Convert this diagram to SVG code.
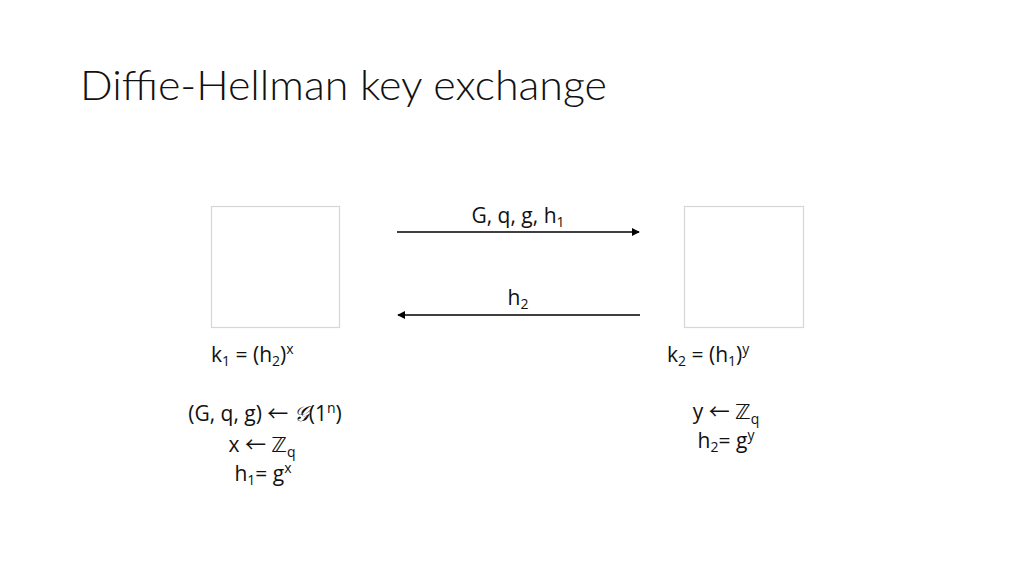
<svg xmlns="http://www.w3.org/2000/svg" width="1024" height="576" viewBox="0 0 1024 576">
<style>
text{font-family:"Open Sans","Liberation Sans",sans-serif;fill:#111}
.t{font-size:21px}
.sub{font-size:14px}
.ar{font-family:"Noto Sans CJK SC",sans-serif;font-size:21px}
.box{fill:#fff;stroke:#d6d6d6;stroke-width:1.2}
.ln{stroke:#000;stroke-width:1.6;fill:none}
</style>
<defs>
<marker id="ah" viewBox="0 0 10 10" refX="9" refY="5" markerWidth="5" markerHeight="5" orient="auto-start-reverse"><path d="M0,0L10,5L0,10z" fill="#000"/></marker>
</defs>
<rect width="1024" height="576" fill="#fff"/>
<text x="80" y="100" style="font-family:Lato,'Open Sans',sans-serif;font-weight:300;font-size:42px" textLength="527" lengthAdjust="spacingAndGlyphs">Diffie-Hellman key exchange</text>
<g id="alice"><rect class="box" x="211.5" y="206.5" width="128" height="121"/></g>
<g id="bob"><rect class="box" x="684.5" y="206.5" width="119" height="121"/></g>
<g id="connectors">
<line class="ln" x1="397" y1="232" x2="639" y2="232" marker-end="url(#ah)"/>
<line class="ln" x1="640" y1="315" x2="398" y2="315" marker-end="url(#ah)"/>
</g>
<g id="labels">
<text class="t" x="518" y="223" text-anchor="middle">G, q, g, h<tspan class="sub" dy="4">1</tspan></text>
<text class="t" x="518" y="305" text-anchor="middle">h<tspan class="sub" dy="4">2</tspan></text>
</g>
<g id="alice-text">
<text class="t" x="211" y="362">k<tspan class="sub" dy="4">1</tspan><tspan dy="-4"> = (h</tspan><tspan class="sub" dy="4">2</tspan><tspan dy="-4">)</tspan><tspan class="sub" dy="-8">x</tspan></text>
<text class="t" x="265" y="421" text-anchor="middle">(G, q, g) <tspan class="ar">←</tspan> <tspan font-family="DejaVu Sans,serif" font-style="italic">𝒢</tspan>(1<tspan class="sub" dy="-8">n</tspan><tspan dy="8">)</tspan></text>
<text class="t" x="262" y="452" text-anchor="middle">x <tspan class="ar">←</tspan> <tspan font-family="DejaVu Sans,sans-serif">ℤ</tspan><tspan class="sub" dy="5">q</tspan></text>
<text class="t" x="263" y="481" text-anchor="middle">h<tspan class="sub" dy="4">1</tspan><tspan dy="-4">= g</tspan><tspan class="sub" dy="-8">x</tspan></text>
</g>
<g id="bob-text">
<text class="t" x="667" y="362">k<tspan class="sub" dy="4">2</tspan><tspan dy="-4"> = (h</tspan><tspan class="sub" dy="4">1</tspan><tspan dy="-4">)</tspan><tspan class="sub" dy="-8">y</tspan></text>
<text class="t" x="726" y="419" text-anchor="middle">y <tspan class="ar">←</tspan> <tspan font-family="DejaVu Sans,sans-serif">ℤ</tspan><tspan class="sub" dy="5">q</tspan></text>
<text class="t" x="726" y="448" text-anchor="middle">h<tspan class="sub" dy="4">2</tspan><tspan dy="-4">= g</tspan><tspan class="sub" dy="-8">y</tspan></text>
</g>
</svg>
